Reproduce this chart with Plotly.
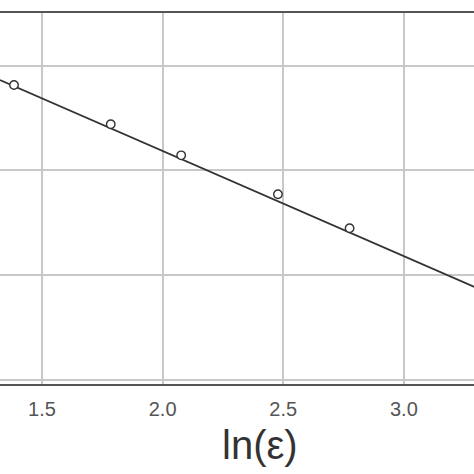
import plotly.graph_objects as go

# Data
ln_eps = [1.384, 1.785, 2.077, 2.478, 2.775]
ln_n = [6.818, 6.442, 6.145, 5.772, 5.447]

# Fitted straight line (slope / intercept)
fit_slope = -1.007
fit_intercept = 8.201
fit_x = [1.326, 3.357]
fit_y = [fit_intercept + fit_slope * v for v in fit_x]

x_ticks = [1.5, 2.0, 2.5, 3.0]
x_tick_labels = ["1.5", "2.0", "2.5", "3.0"]
y_grid = [4, 5, 6, 7]

FIG_W = 490  # plot area continues past the right edge of the 474 px window

fig = go.Figure()
fig.add_trace(go.Scatter(x=fit_x, y=fit_y, mode="lines",
                         line=dict(color="#333333", width=1.7),
                         showlegend=False, hoverinfo="skip"))
fig.add_trace(go.Scatter(x=ln_eps, y=ln_n, mode="markers",
                         marker=dict(symbol="circle", size=8.5, color="white",
                                     line=dict(color="#333333", width=1.4)),
                         showlegend=False))

fig.update_layout(
    width=FIG_W, height=474,
    margin=dict(l=0, r=0, t=13, b=90),
    paper_bgcolor="white", plot_bgcolor="white",
    font=dict(family="Liberation Sans, Arial, sans-serif", color="#555555"),
    xaxis=dict(range=[1.326, 3.357], tickvals=x_ticks, ticktext=x_tick_labels,
               showgrid=True, gridcolor="#c8c8c8", gridwidth=1.5,
               showline=True, linecolor="#555555", linewidth=2, mirror=True,
               ticks="outside", ticklen=6, tickcolor="rgba(0,0,0,0)",
               tickfont=dict(size=20, color="#555555"), zeroline=False),
    yaxis=dict(range=[3.957, 7.507], tickvals=y_grid,
               showgrid=True, gridcolor="#c8c8c8", gridwidth=1.5,
               showticklabels=False, showline=False, zeroline=False),
    annotations=[dict(text="ln(ε)", xref="paper", yref="paper",
                      x=260 / FIG_W, y=-(445 - 384) / 371, xanchor="center",
                      yanchor="middle", showarrow=False,
                      font=dict(size=40, color="#333333",
                                family="Liberation Sans, Arial, sans-serif"))],
)

fig.write_html("out.html",
               config={"displayModeBar": False},
               post_script=("document.body.style.margin='0';"
                            "document.body.style.overflow='hidden';"
                            "document.documentElement.style.overflow='hidden';"))
